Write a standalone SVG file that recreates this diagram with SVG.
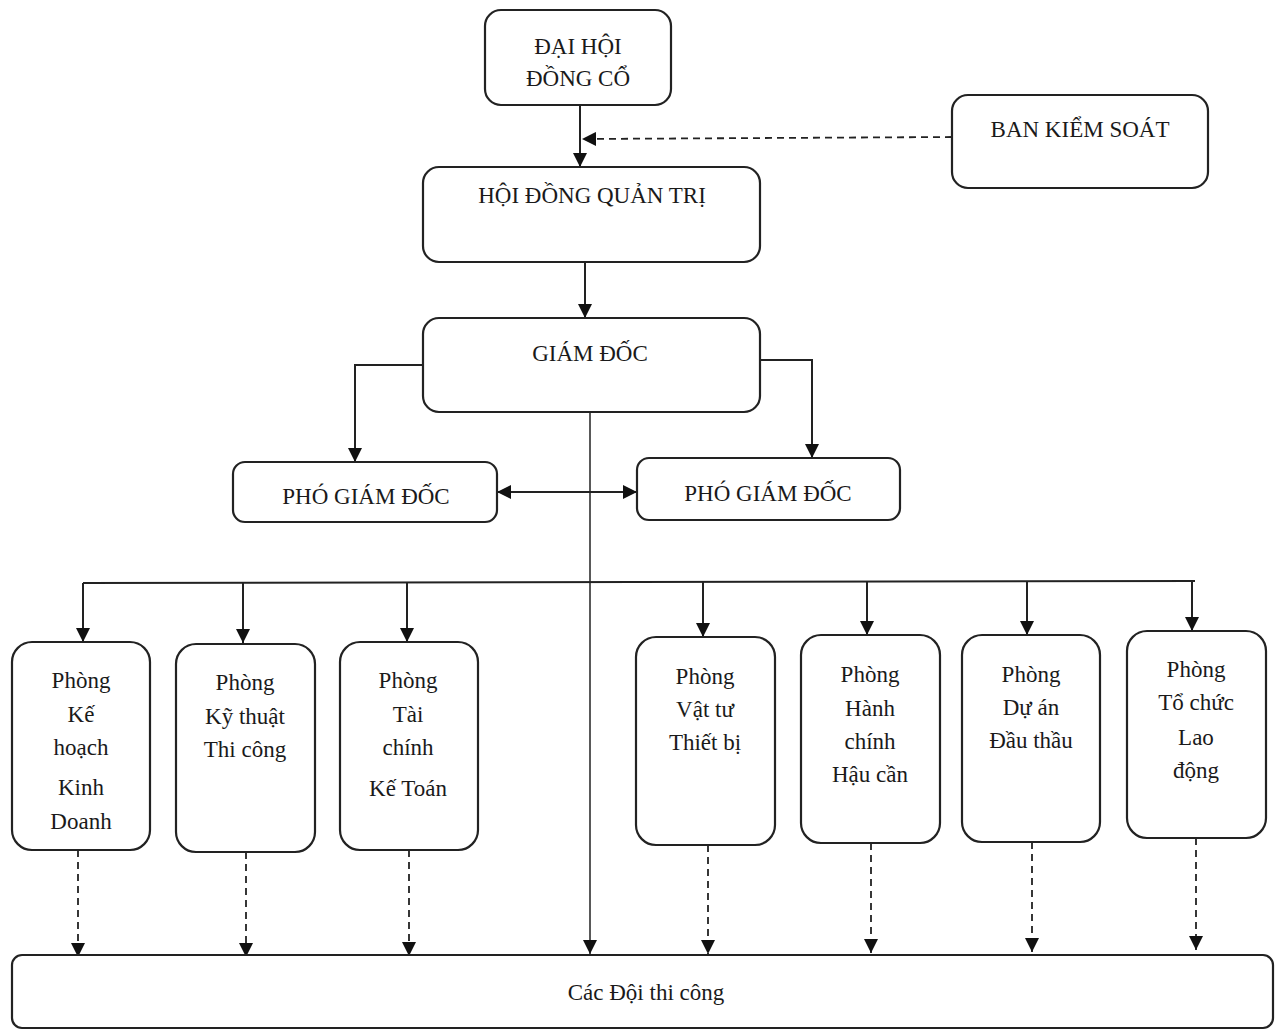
<svg xmlns="http://www.w3.org/2000/svg" width="1278" height="1032" viewBox="0 0 1278 1032">
<defs>
<style>
.box{fill:#fff;stroke:#222;stroke-width:2.2}
.t{font-family:"Liberation Serif","Times New Roman",serif;font-size:23px;fill:#1a1a1a;text-anchor:middle}
.ln{fill:none;stroke:#222;stroke-width:2}
.thin{fill:none;stroke:#222;stroke-width:1.5}
.ds{fill:none;stroke:#222;stroke-width:1.8;stroke-dasharray:7,5}
</style>
<marker id="ah" viewBox="0 0 10 10" refX="10" refY="5" markerWidth="14" markerHeight="14" markerUnits="userSpaceOnUse" orient="auto-start-reverse">
<path d="M0,0 L10,5 L0,10 Z" fill="#111"/>
</marker>
</defs>
<rect width="1278" height="1032" fill="#fff"/>
<g id="connectors">
<line class="ln" x1="580" y1="105" x2="580" y2="167" marker-end="url(#ah)"/>
<line class="ds" x1="952" y1="137" x2="582" y2="139" marker-end="url(#ah)"/>
<line class="ln" x1="585" y1="262" x2="585" y2="318" marker-end="url(#ah)"/>
<polyline class="ln" points="423,365 355,365 355,462" marker-end="url(#ah)"/>
<polyline class="ln" points="760,360 812,360 812,458" marker-end="url(#ah)"/>
<line class="ln" x1="497" y1="492" x2="637" y2="492" marker-start="url(#ah)" marker-end="url(#ah)"/>
<line class="thin" x1="590" y1="412" x2="590" y2="954" marker-end="url(#ah)"/>
<line class="ln" x1="83" y1="583" x2="1195" y2="581"/>
<line class="ln" x1="83" y1="583" x2="83" y2="642" marker-end="url(#ah)"/>
<line class="ln" x1="243" y1="583" x2="243" y2="643" marker-end="url(#ah)"/>
<line class="ln" x1="407" y1="583" x2="407" y2="642" marker-end="url(#ah)"/>
<line class="ln" x1="703" y1="582" x2="703" y2="637" marker-end="url(#ah)"/>
<line class="ln" x1="867" y1="582" x2="867" y2="635" marker-end="url(#ah)"/>
<line class="ln" x1="1027" y1="581" x2="1027" y2="635" marker-end="url(#ah)"/>
<line class="ln" x1="1192" y1="581" x2="1192" y2="631" marker-end="url(#ah)"/>
<line class="ds" x1="78" y1="850" x2="78" y2="957" marker-end="url(#ah)"/>
<line class="ds" x1="246" y1="852" x2="246" y2="957" marker-end="url(#ah)"/>
<line class="ds" x1="409" y1="850" x2="409" y2="956" marker-end="url(#ah)"/>
<line class="ds" x1="708" y1="845" x2="708" y2="954" marker-end="url(#ah)"/>
<line class="ds" x1="871" y1="843" x2="871" y2="953" marker-end="url(#ah)"/>
<line class="ds" x1="1032" y1="842" x2="1032" y2="952" marker-end="url(#ah)"/>
<line class="ds" x1="1196" y1="838" x2="1196" y2="950" marker-end="url(#ah)"/>
</g>
<g id="dai-hoi">
<rect class="box" x="485" y="10" width="186" height="95" rx="16"/>
<text class="t" x="578" y="54">ĐẠI HỘI</text>
<text class="t" x="578" y="86">ĐỒNG CỔ</text>
</g>
<g id="ban-kiem-soat">
<rect class="box" x="952" y="95" width="256" height="93" rx="16"/>
<text class="t" x="1080" y="137">BAN KIỂM SOÁT</text>
</g>
<g id="hdqt">
<rect class="box" x="423" y="167" width="337" height="95" rx="16"/>
<text class="t" x="592" y="203">HỘI ĐỒNG QUẢN TRỊ</text>
</g>
<g id="giam-doc">
<rect class="box" x="423" y="318" width="337" height="94" rx="16"/>
<text class="t" x="590" y="361">GIÁM ĐỐC</text>
</g>
<g id="pho-gd-1">
<rect class="box" x="233" y="462" width="264" height="60" rx="12"/>
<text class="t" x="366" y="504">PHÓ GIÁM ĐỐC</text>
</g>
<g id="pho-gd-2">
<rect class="box" x="637" y="458" width="263" height="62" rx="12"/>
<text class="t" x="768" y="501">PHÓ GIÁM ĐỐC</text>
</g>
<g id="p1">
<rect class="box" x="12" y="642" width="138" height="208" rx="20"/>
<text class="t" x="81" y="688">Phòng</text>
<text class="t" x="81" y="722">Kế</text>
<text class="t" x="81" y="755">hoạch</text>
<text class="t" x="81" y="795">Kinh</text>
<text class="t" x="81" y="829">Doanh</text>
</g>
<g id="p2">
<rect class="box" x="176" y="644" width="139" height="208" rx="20"/>
<text class="t" x="245" y="690">Phòng</text>
<text class="t" x="245" y="724">Kỹ thuật</text>
<text class="t" x="245" y="757">Thi công</text>
</g>
<g id="p3">
<rect class="box" x="340" y="642" width="138" height="208" rx="20"/>
<text class="t" x="408" y="688">Phòng</text>
<text class="t" x="408" y="722">Tài</text>
<text class="t" x="408" y="755">chính</text>
<text class="t" x="408" y="796">Kế Toán</text>
</g>
<g id="p4">
<rect class="box" x="636" y="637" width="139" height="208" rx="20"/>
<text class="t" x="705" y="684">Phòng</text>
<text class="t" x="705" y="717">Vật tư</text>
<text class="t" x="705" y="750">Thiết bị</text>
</g>
<g id="p5">
<rect class="box" x="801" y="635" width="139" height="208" rx="20"/>
<text class="t" x="870" y="682">Phòng</text>
<text class="t" x="870" y="716">Hành</text>
<text class="t" x="870" y="749">chính</text>
<text class="t" x="870" y="782">Hậu cần</text>
</g>
<g id="p6">
<rect class="box" x="962" y="635" width="138" height="207" rx="20"/>
<text class="t" x="1031" y="682">Phòng</text>
<text class="t" x="1031" y="715">Dự án</text>
<text class="t" x="1031" y="748">Đầu thầu</text>
</g>
<g id="p7">
<rect class="box" x="1127" y="631" width="139" height="207" rx="20"/>
<text class="t" x="1196" y="677">Phòng</text>
<text class="t" x="1196" y="710">Tổ chức</text>
<text class="t" x="1196" y="745">Lao</text>
<text class="t" x="1196" y="778">động</text>
</g>
<g id="cac-doi">
<rect class="box" x="12" y="955" width="1261" height="73" rx="10"/>
<text class="t" x="646" y="1000">Các Đội thi công</text>
</g>
</svg>
